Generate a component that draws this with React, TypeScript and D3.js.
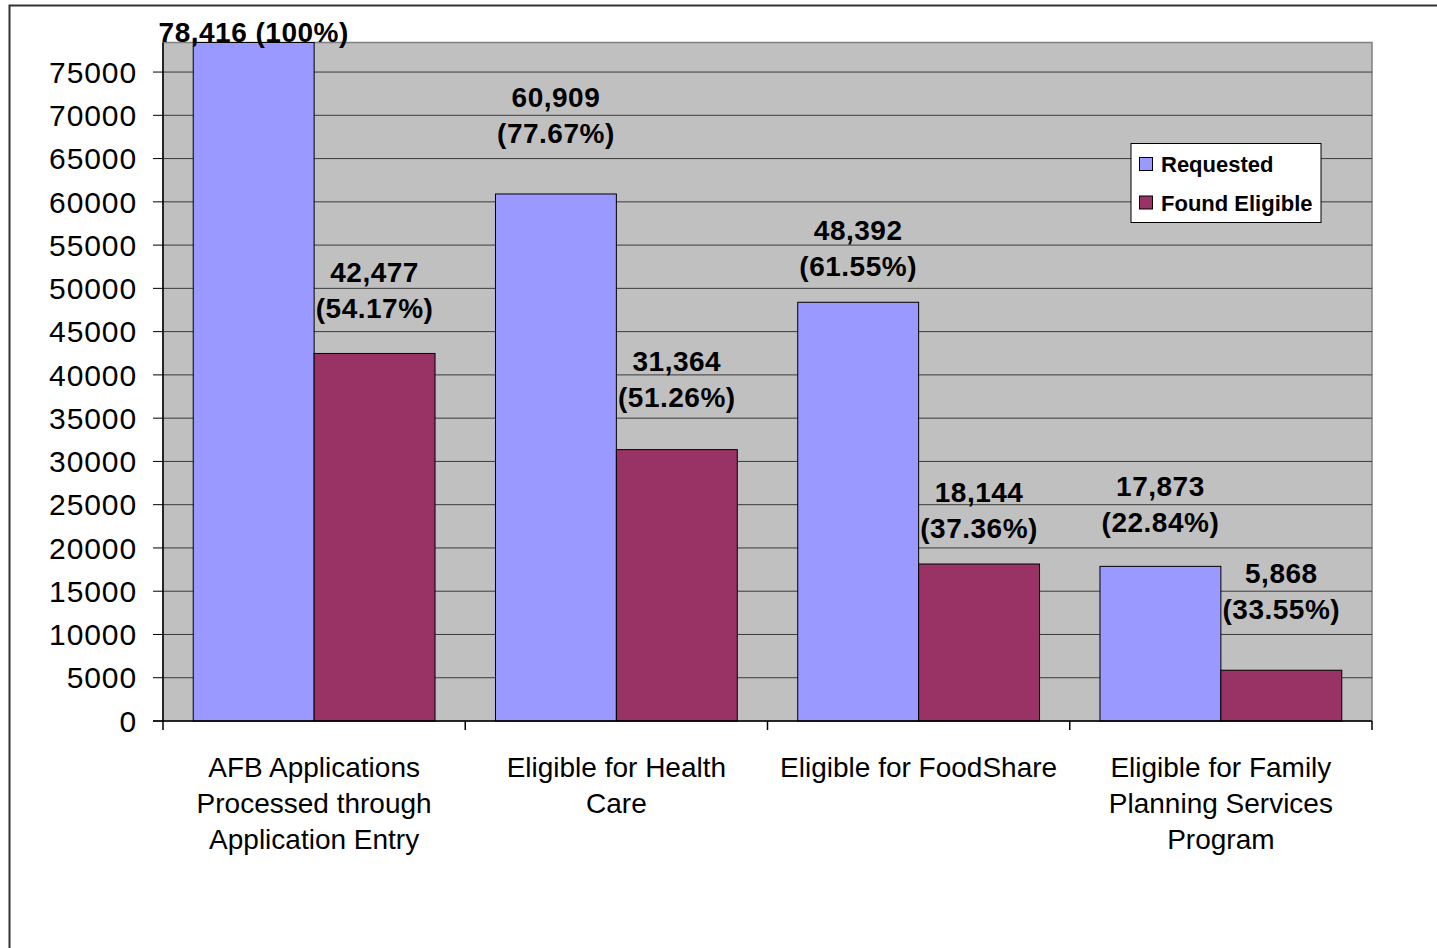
import React from "react";
import * as d3 from "d3";

const categories: string[][] = [
  ["AFB Applications", "Processed through", "Application Entry"],
  ["Eligible for Health", "Care"],
  ["Eligible for FoodShare"],
  ["Eligible for Family", "Planning Services", "Program"],
];
const seriesNames = ["Requested", "Found Eligible"];
const requested = [78416, 60909, 48392, 17873];
const foundEligible = [42477, 31364, 18144, 5868];
const requestedPct = ["100%", "77.67%", "61.55%", "22.84%"];
const foundPct = ["54.17%", "51.26%", "37.36%", "33.55%"];
const yTicks = d3.range(0, 75001, 5000);
const axisMax = 78416;

// layout: distance (px) from bar top to centre of the last label line
const requestedLabelLift = [11, 61, 36, 44];
const foundLabelLift = [45, 53, 36, 61];
const colors = ["#9999FF", "#993366"];

const W = 1437;
const H = 948;
const plotL = 163;
const plotR = 1372;
const plotB = 721;
const plotT = 42.5;

export default function App() {
  const y = d3.scaleLinear().domain([0, axisMax]).range([plotB, plotT]);
  const x0 = d3
    .scaleBand<number>()
    .domain(categories.map((_, i) => i))
    .range([plotL, plotR])
    .paddingInner(0.2)
    .paddingOuter(0.1);
  const x1 = d3.scaleBand<number>().domain([0, 1]).range([0, x0.bandwidth()]);
  const step = x0.step();
  const fmt = d3.format(",");
  const series = [requested, foundEligible];
  const pcts = [requestedPct, foundPct];
  const lifts = [requestedLabelLift, foundLabelLift];
  const font = "Arial, 'Liberation Sans', sans-serif";

  return (
    <svg
      width={W}
      height={H}
      style={{ position: "absolute", left: 0, top: 0, background: "#fff" }}
      fontFamily={font}
    >
      <rect x={9.5} y={5.5} width={1600} height={1200} fill="#fff" stroke="#333" strokeWidth={2} />
      <rect x={plotL} y={plotT} width={plotR - plotL} height={plotB - plotT} fill="#C0C0C0" stroke="#808080" strokeWidth={1.5} />
      {yTicks.filter((t) => t > 0).map((t) => (
        <line key={t} x1={plotL} x2={plotR} y1={y(t)} y2={y(t)} stroke="#3a3a3a" strokeWidth={1} />
      ))}
      {/* bars */}
      {series.map((vals, s) =>
        vals.map((v, i) => {
          const bx = (x0(i) as number) + (x1(s) as number);
          return (
            <rect
              key={`b${s}-${i}`}
              x={bx}
              y={y(v)}
              width={x1.bandwidth()}
              height={plotB - y(v)}
              fill={colors[s]}
              stroke="#000"
              strokeWidth={1}
            />
          );
        })
      )}
      {/* axes */}
      <line x1={plotL} x2={plotL} y1={plotT} y2={plotB} stroke="#000" strokeWidth={1.5} />
      <line x1={plotL - 10} x2={plotR} y1={plotB} y2={plotB} stroke="#000" strokeWidth={1.5} />
      {yTicks.map((t) => (
        <g key={`t${t}`}>
          <line x1={plotL - 10} x2={plotL} y1={y(t)} y2={y(t)} stroke="#000" strokeWidth={1} />
          <text x={137} y={y(t) + 10.7} textAnchor="end" fontSize={30} letterSpacing={0.9} fill="#000">
            {t}
          </text>
        </g>
      ))}
      {d3.range(categories.length + 1).map((k) => (
        <line key={`ct${k}`} x1={plotL + k * step} x2={plotL + k * step} y1={plotB} y2={plotB + 9} stroke="#000" strokeWidth={1.5} />
      ))}
      {categories.map((lines, i) => {
        const cx = (x0(i) as number) + x0.bandwidth() / 2;
        return (
          <text key={`c${i}`} textAnchor="middle" fontSize={28} fill="#000">
            {lines.map((ln, j) => (
              <tspan key={j} x={cx} y={777 + j * 36}>
                {ln}
              </tspan>
            ))}
          </text>
        );
      })}
      {/* data labels */}
      {series.map((vals, s) =>
        vals.map((v, i) => {
          const cx = (x0(i) as number) + (x1(s) as number) + x1.bandwidth() / 2;
          const base = y(v) - lifts[s][i] + 10;
          const full = `${fmt(v)} (${pcts[s][i]})`;
          const lines = s === 0 && i === 0 ? [full] : [fmt(v), `(${pcts[s][i]})`];
          return (
            <text key={`l${s}-${i}`} textAnchor="middle" fontSize={28} fontWeight="bold" letterSpacing={0.5} fill="#000">
              {lines.map((ln, j) => (
                <tspan key={j} x={cx} y={base - (lines.length - 1 - j) * 36}>
                  {ln}
                </tspan>
              ))}
            </text>
          );
        })
      )}
      {/* legend */}
      <rect x={1131} y={143.5} width={190} height={79} fill="#fff" stroke="#000" strokeWidth={1} />
      {seriesNames.map((n, s) => (
        <g key={n}>
          <rect x={1139.5} y={157.5 + s * 38.5} width={13} height={13} fill={colors[s]} stroke="#000" strokeWidth={1} />
          <text x={1161} y={172 + s * 39} fontSize={22} fontWeight="bold" fill="#000">
            {n}
          </text>
        </g>
      ))}
    </svg>
  );
}
